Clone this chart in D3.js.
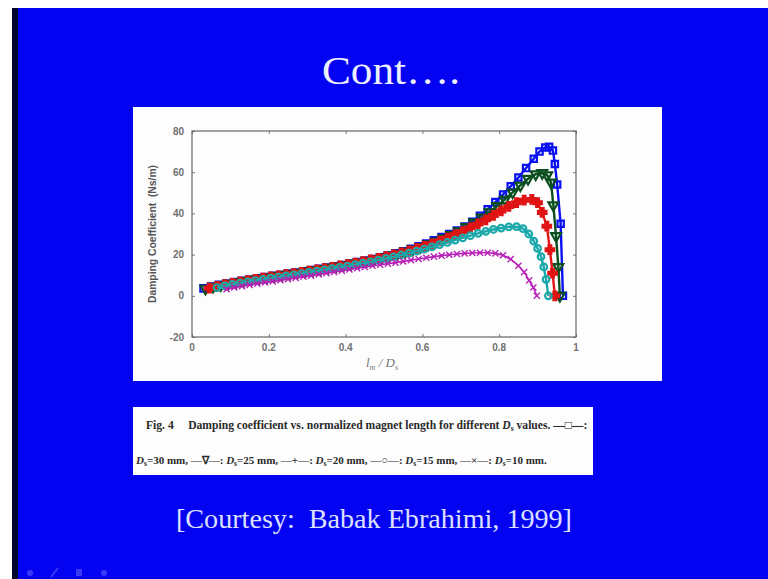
<!DOCTYPE html>
<html>
<head>
<meta charset="utf-8">
<script src="https://cdn.jsdelivr.net/npm/d3@7"></script>
<style>
  body { margin: 0; background: #fff; }
  svg { display: block; }
  text { white-space: pre; }
</style>
</head>
<body>
<svg width="768" height="579"></svg>
<script>
// data: [l_m/D_s, damping coefficient (Ns/m)]
var d30 = [[0.03,3.6],[0.05,4.5],[0.07,5.3],[0.09,6.0],[0.11,6.7],[0.13,7.3],[0.15,7.9],[0.17,8.5],[0.19,9.1],[0.21,9.7],[0.23,10.2],[0.25,10.8],[0.27,11.3],[0.29,11.9],[0.31,12.5],[0.33,13.1],[0.35,13.7],[0.37,14.3],[0.39,15.0],[0.41,15.7],[0.43,16.4],[0.45,17.1],[0.47,17.9],[0.49,18.7],[0.51,19.6],[0.53,20.6],[0.55,21.6],[0.57,22.8],[0.59,24.0],[0.61,25.4],[0.63,26.9],[0.65,28.5],[0.67,30.0],[0.69,31.7],[0.71,33.6],[0.73,36.0],[0.75,38.8],[0.77,42.0],[0.79,45.5],[0.81,49.2],[0.83,53.2],[0.85,57.4],[0.87,62.0],[0.89,66.5],[0.905,70.0],[0.92,72.0],[0.93,72.3],[0.94,70.5],[0.945,64],[0.951,54],[0.96,35],[0.966,0]];
var d25 = [[0.035,3.5],[0.055,4.4],[0.075,5.2],[0.095,5.9],[0.115,6.6],[0.135,7.2],[0.155,7.8],[0.175,8.4],[0.195,9.0],[0.215,9.6],[0.235,10.1],[0.255,10.7],[0.275,11.2],[0.295,11.8],[0.315,12.4],[0.335,13.0],[0.355,13.6],[0.375,14.2],[0.395,14.9],[0.415,15.6],[0.435,16.3],[0.455,17.0],[0.475,17.8],[0.495,18.6],[0.515,19.5],[0.535,20.4],[0.555,21.4],[0.575,22.5],[0.595,23.7],[0.615,25.0],[0.635,26.4],[0.655,28.0],[0.675,29.6],[0.695,31.4],[0.715,33.4],[0.735,35.6],[0.755,38.0],[0.775,40.6],[0.795,43.6],[0.815,46.8],[0.835,50.2],[0.855,53.6],[0.875,56.8],[0.895,59.0],[0.912,59.6],[0.925,58.5],[0.935,55],[0.941,44],[0.948,29],[0.954,14],[0.958,0]];
var d20 = [[0.045,3.7],[0.065,4.6],[0.085,5.4],[0.105,6.1],[0.125,6.8],[0.145,7.4],[0.165,8.0],[0.185,8.6],[0.205,9.2],[0.225,9.7],[0.245,10.3],[0.265,10.8],[0.285,11.4],[0.305,12.0],[0.325,12.6],[0.345,13.2],[0.365,13.8],[0.385,14.5],[0.405,15.2],[0.425,15.9],[0.445,16.6],[0.465,17.4],[0.485,18.2],[0.505,19.0],[0.525,19.9],[0.545,20.8],[0.565,21.8],[0.585,22.9],[0.605,24.0],[0.625,25.2],[0.645,26.6],[0.665,28.0],[0.685,29.6],[0.705,31.2],[0.725,33.0],[0.745,34.9],[0.765,36.9],[0.785,39.0],[0.805,41.2],[0.825,43.4],[0.845,45.2],[0.865,46.4],[0.885,46.8],[0.9,45.2],[0.912,40.5],[0.924,33.8],[0.932,22.4],[0.939,11],[0.945,0]];
var d15 = [[0.065,4.0],[0.085,4.8],[0.105,5.5],[0.125,6.2],[0.145,6.8],[0.165,7.4],[0.185,8.0],[0.205,8.6],[0.225,9.1],[0.245,9.7],[0.265,10.2],[0.285,10.8],[0.305,11.4],[0.325,12.0],[0.345,12.6],[0.365,13.2],[0.385,13.8],[0.405,14.4],[0.425,15.1],[0.445,15.8],[0.465,16.5],[0.485,17.3],[0.505,18.1],[0.525,18.9],[0.545,19.8],[0.565,20.7],[0.585,21.7],[0.605,22.7],[0.625,23.7],[0.645,24.8],[0.665,25.9],[0.685,27.0],[0.705,28.1],[0.725,29.2],[0.745,30.3],[0.765,31.3],[0.785,32.2],[0.805,32.9],[0.825,33.5],[0.845,33.6],[0.862,32.6],[0.877,30.0],[0.89,26.5],[0.9,23],[0.909,19],[0.916,14],[0.922,8],[0.928,0]];
var d10 = [[0.09,3.2],[0.11,4.0],[0.13,4.7],[0.15,5.3],[0.17,5.9],[0.19,6.5],[0.21,7.0],[0.23,7.6],[0.25,8.1],[0.27,8.7],[0.29,9.3],[0.31,9.8],[0.33,10.4],[0.35,11.0],[0.37,11.6],[0.39,12.2],[0.41,12.8],[0.43,13.4],[0.45,14.0],[0.47,14.6],[0.49,15.1],[0.51,15.6],[0.53,16.1],[0.55,16.7],[0.57,17.3],[0.59,17.9],[0.61,18.5],[0.63,19.0],[0.65,19.5],[0.67,19.9],[0.69,20.3],[0.71,20.6],[0.73,20.8],[0.75,20.9],[0.77,20.9],[0.79,20.6],[0.81,19.7],[0.83,17.8],[0.85,14.6],[0.865,11.5],[0.878,7.5],[0.889,4],[0.898,0]];

var seriesNames = ["30 mm", "25 mm", "20 mm", "15 mm", "10 mm"];
var seriesData = [d30, d25, d20, d15, d10];
var seriesColors = ["#0a10f0", "#0b4f1e", "#e01414", "#1aa8aa", "#b820b8"];
var seriesMarkers = ["square", "triangle", "plus", "circle", "cross"];

var xTicks = [0, 0.2, 0.4, 0.6, 0.8, 1];
var yTicks = [-20, 0, 20, 40, 60, 80];

var svg = d3.select("svg");
var W = 768, H = 579;
var slideBlue = "#0303f2";

// slide background
svg.append("rect").attr("x", 12).attr("y", 8).attr("width", W - 12).attr("height", H - 8).attr("fill", slideBlue);
svg.append("rect").attr("x", 12).attr("y", 8).attr("width", 6).attr("height", H - 8).attr("fill", "#05052a");

// title
svg.append("text")
    .attr("x", 391).attr("y", 84)
    .attr("text-anchor", "middle")
    .attr("font-family", "Liberation Serif, serif")
    .attr("font-size", 40)
    .attr("fill", "#eef0ff")
    .attr("textLength", 138).attr("lengthAdjust", "spacingAndGlyphs")
    .text("Cont\u2026.");

// white panel with the figure
svg.append("rect").attr("x", 133).attr("y", 107).attr("width", 529).attr("height", 274).attr("fill", "#fdfdfd");

var margin = {left: 192, top: 131, right: 576, bottom: 337};

var x = d3.scaleLinear().domain([0, 1]).range([margin.left, margin.right]);
var y = d3.scaleLinear().domain([-20, 80]).range([margin.bottom, margin.top]);

var g = svg.append("g");

// axes, ticks pointing inward on all 4 sides
g.append("g")
    .attr("transform", "translate(0," + margin.bottom + ")")
    .call(d3.axisTop(x).tickValues(xTicks).tickSize(3).tickFormat(""))
    .call(function(a) { a.select(".domain").remove(); });
g.append("g")
    .attr("transform", "translate(0," + margin.top + ")")
    .call(d3.axisBottom(x).tickValues(xTicks).tickSize(3).tickFormat(""))
    .call(function(a) { a.select(".domain").remove(); });
g.append("g")
    .attr("transform", "translate(" + margin.left + ",0)")
    .call(d3.axisRight(y).tickValues(yTicks).tickSize(3).tickFormat(""))
    .call(function(a) { a.select(".domain").remove(); });
g.append("g")
    .attr("transform", "translate(" + margin.right + ",0)")
    .call(d3.axisLeft(y).tickValues(yTicks).tickSize(3).tickFormat(""))
    .call(function(a) { a.select(".domain").remove(); });
g.selectAll(".tick line").attr("stroke", "#777");

g.append("rect")
    .attr("x", margin.left).attr("y", margin.top)
    .attr("width", margin.right - margin.left).attr("height", margin.bottom - margin.top)
    .attr("fill", "none").attr("stroke", "#666").attr("stroke-width", 1.2);

// tick labels
g.selectAll(".xl").data(xTicks).enter().append("text")
    .attr("x", function(d) { return x(d); })
    .attr("y", margin.bottom + 14)
    .attr("text-anchor", "middle")
    .attr("font-family", "Liberation Sans, Arial, sans-serif")
    .attr("font-size", 10).attr("font-weight", "bold")
    .attr("fill", "#707070")
    .text(function(d) { return d; });
g.selectAll(".yl").data(yTicks).enter().append("text")
    .attr("x", margin.left - 8)
    .attr("y", function(d) { return y(d) + 3.5; })
    .attr("text-anchor", "end")
    .attr("font-family", "Liberation Sans, Arial, sans-serif")
    .attr("font-size", 10).attr("font-weight", "bold")
    .attr("fill", "#707070")
    .text(function(d) { return d; });

// axis titles
g.append("text")
    .attr("transform", "translate(156," + ((margin.top + margin.bottom) / 2) + ") rotate(-90)")
    .attr("text-anchor", "middle")
    .attr("font-family", "Liberation Sans, Arial, sans-serif")
    .attr("font-size", 10).attr("font-weight", "bold")
    .attr("fill", "#555")
    .attr("textLength", 138).attr("lengthAdjust", "spacingAndGlyphs")
    .text("Damping Coefficient  (Ns/m)");

var xt = g.append("text")
    .attr("x", 382).attr("y", 367)
    .attr("text-anchor", "middle")
    .attr("font-family", "Liberation Serif, serif")
    .attr("font-style", "italic")
    .attr("font-size", 13)
    .attr("fill", "#777");
xt.append("tspan").text("l");
xt.append("tspan").attr("font-size", 8).attr("dy", 3).text("m");
xt.append("tspan").attr("dy", -3).text(" / D");
xt.append("tspan").attr("font-size", 8).attr("dy", 3).text("s");

// curves with markers
var line = d3.line().x(function(d) { return x(d[0]); }).y(function(d) { return y(d[1]); });

var symType = {
    square: d3.symbolSquare,
    triangle: d3.symbolTriangle,
    plus: d3.symbolCross,
    circle: d3.symbolCircle,
    cross: d3.symbolTimes
};

seriesData.forEach(function(data, i) {
    var col = seriesColors[i];
    var sg = g.append("g").attr("class", "series").attr("data-name", seriesNames[i]);
    sg.append("path")
        .attr("d", line(data))
        .attr("fill", "none")
        .attr("stroke", col)
        .attr("stroke-width", i === 4 ? 1.6 : 2.4);
    var m = seriesMarkers[i];
    var hollow = (m === "square" || m === "triangle" || m === "circle");
    var size = m === "square" ? 40 : m === "triangle" ? 42 : m === "circle" ? 34 : m === "plus" ? 40 : 26;
    var sym = d3.symbol().type(symType[m]).size(size);
    sg.selectAll("path.mk").data(data).enter().append("path")
        .attr("class", "mk")
        .attr("d", sym)
        .attr("transform", function(d) {
            var r = m === "triangle" ? " rotate(180)" : "";
            return "translate(" + x(d[0]) + "," + y(d[1]) + ")" + r;
        })
        .attr("fill", hollow ? "none" : col)
        .attr("stroke", col)
        .attr("stroke-width", m === "cross" ? 1.4 : 2.2);
});

// caption box
svg.append("rect").attr("x", 133).attr("y", 407).attr("width", 460).attr("height", 68).attr("fill", "#fdfdfd");

var cap = svg.append("g")
    .attr("font-family", "Liberation Serif, serif")
    .attr("font-weight", "bold")
    .attr("fill", "#2a2a2a");

var c1 = cap.append("text").attr("x", 146).attr("y", 429).attr("font-size", 11.6);
c1.append("tspan").text("Fig. 4     Damping coefficient vs. normalized magnet length for different ");
c1.append("tspan").attr("font-style", "italic").text("D");
c1.append("tspan").attr("font-size", 7.5).attr("dy", 2).text("s");
c1.append("tspan").attr("dy", -2).text(" values. \u2014\u25a1\u2014:");

var c2 = cap.append("text").attr("x", 136).attr("y", 464).attr("font-size", 11);
var parts = [["30", "\u2014\u2207\u2014: "], ["25", "\u2014+\u2014: "], ["20", "\u2014\u25cb\u2014: "], ["15", "\u2014\u00d7\u2014: "], ["10", ""]];
parts.forEach(function(p, i) {
    c2.append("tspan").attr("font-style", "italic").text("D");
    c2.append("tspan").attr("font-size", 7.5).attr("dy", 2).text("s");
    c2.append("tspan").attr("dy", -2).text("=" + p[0] + " mm" + (i < parts.length - 1 ? ", " + p[1] : "."));
});

// courtesy line
svg.append("text")
    .attr("x", 374).attr("y", 528)
    .attr("text-anchor", "middle")
    .attr("font-family", "Liberation Serif, serif")
    .attr("font-size", 27)
    .attr("fill", "#dde0ff")
    .attr("textLength", 396).attr("lengthAdjust", "spacingAndGlyphs")
    .text("[Courtesy:  Babak Ebrahimi, 1999]");

// faint navigation marks bottom left
var nav = svg.append("g").attr("fill", "#3a3af6");
nav.append("circle").attr("cx", 30).attr("cy", 573).attr("r", 3);
nav.append("path").attr("d", "M51,577 L58,568").attr("stroke", "#3a3af6").attr("stroke-width", 2);
nav.append("rect").attr("x", 76).attr("y", 569).attr("width", 6).attr("height", 7);
nav.append("circle").attr("cx", 104).attr("cy", 573).attr("r", 3);
</script>
</body>
</html>
